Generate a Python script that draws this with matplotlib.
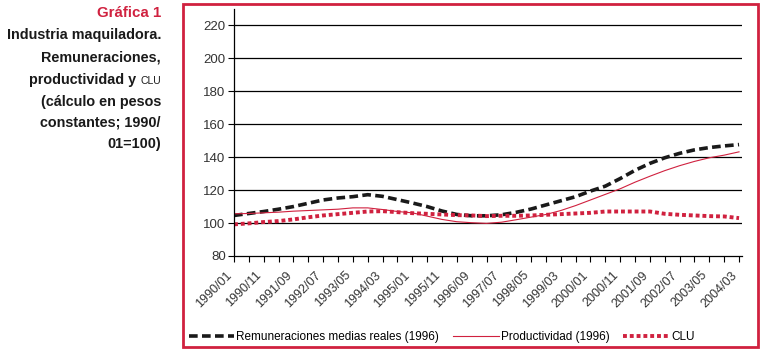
import matplotlib
matplotlib.use("Agg")
import matplotlib.pyplot as plt
from matplotlib.patches import Rectangle
from matplotlib.transforms import ScaledTranslation

plt.rcParams['font.family'] = ['Liberation Sans', 'DejaVu Sans']

# months since 1990/01, sampled every 5 months
months = list(range(0, 171, 5))

remuneraciones = [104.6, 105.8, 107.0, 108.4, 110.0, 112.0, 114.0, 115.2, 116.0, 117.2,
                  116.2, 114.2, 112.2, 110.0, 107.3, 105.2, 104.4, 104.4, 105.0, 106.5,
                  108.5, 111.0, 113.5, 116.0, 119.4, 122.4, 127.0, 132.0, 136.2, 139.6,
                  142.3, 144.4, 145.8, 146.8, 147.6]

productividad = [105.6, 105.8, 106.2, 106.6, 107.2, 107.6, 108.0, 108.4, 109.2, 109.2,
                 108.2, 107.0, 106.2, 104.2, 102.2, 100.8, 100.2, 99.8, 100.5, 102.0,
                 103.6, 105.2, 107.6, 110.6, 114.0, 117.4, 120.8, 124.8, 128.4, 131.8,
                 134.8, 137.4, 139.6, 141.2, 143.2]

clu = [99.2, 99.8, 100.6, 101.2, 102.2, 103.5, 104.6, 105.4, 106.2, 107.0,
       107.2, 106.6, 106.0, 105.6, 105.2, 104.8, 104.6, 104.2, 104.4, 104.4,
       104.6, 105.0, 105.4, 105.8, 106.2, 107.0, 107.0, 107.0, 107.0, 105.6,
       105.0, 104.6, 104.2, 104.0, 103.0]

tick_label_months = list(range(0, 171, 10))
tick_labels = ["1990/01", "1990/11", "1991/09", "1992/07", "1993/05", "1994/03",
               "1995/01", "1995/11", "1996/09", "1997/07", "1998/05", "1999/03",
               "2000/01", "2000/11", "2001/09", "2002/07", "2003/05", "2004/03"]
y_ticks = [80, 100, 120, 140, 160, 180, 200, 220]

series_names = ["Remuneraciones medias reales (1996)", "Productividad (1996)", "CLU"]

RED = '#D0213F'
W, H = 764, 352
fig = plt.figure(figsize=(W / 100, H / 100), dpi=100)

left, right, top, bottom = 234, 742, 8.8, 256
ax = fig.add_axes([left / W, 1 - bottom / H, (right - left) / W, (bottom - top) / H])

l1, = ax.plot(months, remuneraciones, color='#1a1a1a', lw=2.6, dashes=(2.4, 1.2),
              solid_capstyle='butt', dash_capstyle='butt')
l2, = ax.plot(months, productividad, color=RED, lw=0.8)
l3, = ax.plot(months, clu, color=RED, lw=2.8, dashes=(1.0, 0.75), dash_capstyle='butt')

ax.set_xlim(0, 171)
ax.set_ylim(80, 230)
ax.set_yticks(y_ticks)
for v in y_ticks[1:]:
    ax.axhline(v, color='black', lw=0.9, zorder=0)
ax.set_xticks(tick_label_months)
ax.set_xticklabels(tick_labels, rotation=45, ha='right', rotation_mode='anchor',
                   fontsize=9, color='#333333')
ax.set_xticks(list(range(0, 171, 5)), minor=True)
ax.tick_params(axis='x', which='both', length=4, width=0.8, pad=4)
ax.tick_params(axis='y', length=4, width=0.8, labelsize=9.5, labelcolor='#333333', pad=2)
shift = ScaledTranslation(-8 / 100, -2 / 100, fig.dpi_scale_trans)
for lab in ax.get_xticklabels():
    lab.set_transform(lab.get_transform() + shift)
for s in ['top', 'right']:
    ax.spines[s].set_visible(False)
for s in ['left', 'bottom']:
    ax.spines[s].set_linewidth(0.9)

fig.legend([l1, l2, l3], series_names, loc='center', bbox_to_anchor=(441.5 / W, 1 - 337 / H),
           ncol=3, frameon=False, fontsize=8.45, handlelength=3.9, handletextpad=0.15,
           columnspacing=1.2, borderpad=0)

# red frame
fig.patches.append(Rectangle((183 / W, 1 - 346.5 / H), (758 - 183) / W, (346.5 - 3.5) / H,
                             transform=fig.transFigure, fill=False, edgecolor=RED, lw=2))

# left-side title block
tx = 161 / W
FS = 10.4
fig.text(tx, 1 - 13 / H, "Gráfica 1", color=RED, fontsize=10.8, fontweight='bold',
         ha='right', va='center')
lines_y = [35, 58, 80, 102, 123, 144]
fig.text(tx, 1 - lines_y[0] / H, "Industria maquiladora.", fontsize=FS, fontweight='bold',
         ha='right', va='center', color='#1a1a1a')
fig.text(tx, 1 - lines_y[1] / H, "Remuneraciones,", fontsize=FS, fontweight='bold',
         ha='right', va='center', color='#1a1a1a')
clu_t = fig.text(tx, 1 - (lines_y[2] + 4) / H, "CLU", fontsize=7.5, ha='right',
                 va='baseline', color='#1a1a1a')
ax.annotate("productividad y", xy=(0, 0), xycoords=clu_t, xytext=(-3, -0.6),
            textcoords='offset points', ha='right', va='bottom', fontsize=FS,
            fontweight='bold', color='#1a1a1a', annotation_clip=False)
fig.text(tx, 1 - lines_y[3] / H, "(cálculo en pesos", fontsize=FS, fontweight='bold',
         ha='right', va='center', color='#1a1a1a')
fig.text(tx, 1 - lines_y[4] / H, "constantes; 1990/", fontsize=FS, fontweight='bold',
         ha='right', va='center', color='#1a1a1a')
fig.text(tx, 1 - lines_y[5] / H, "01=100)", fontsize=FS, fontweight='bold',
         ha='right', va='center', color='#1a1a1a')

fig.savefig("out.png", dpi=100)
